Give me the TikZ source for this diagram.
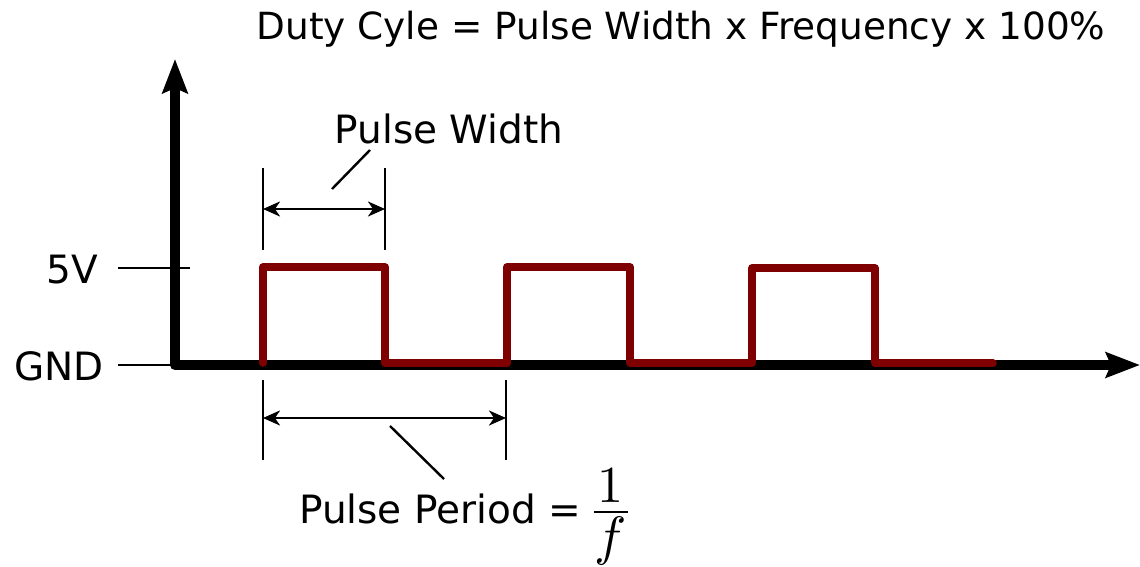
\documentclass[tikz,border=0pt]{standalone}
\usepackage{amsmath}
\usepackage[no-math]{fontspec}
\setmainfont{DejaVu Sans}
\usetikzlibrary{arrows.meta}
\definecolor{pwmred}{HTML}{7F0000}

\begin{document}
\begin{tikzpicture}[x=1pt,y=-1pt,
  axis/.style={line width=10pt,line join=round,
    {Stealth[length=34pt,width=25pt,inset=5pt]}-{Stealth[length=34pt,width=25pt,inset=5pt]}},
  signal/.style={line width=7.5pt,pwmred,line join=round,line cap=round},
  dim/.style={line width=2.4pt},
  dimarrow/.style={line width=2.6pt,
    {Stealth[length=17pt,width=15pt,inset=5pt]}-{Stealth[length=17pt,width=15pt,inset=5pt]}},
  lbl/.style={font=\fontsize{39}{46}\selectfont,inner sep=0pt},
  mathbig/.style={inner sep=0pt,anchor=base}]
\useasboundingbox (0,0) rectangle (1140,567);
\coordinate (O) at (175,365);
\coordinate (Y) at (175,59);
\coordinate (X) at (1140,365);
% level ticks
\coordinate (H0) at (118,268);
\coordinate (H1) at (190,268);
\coordinate (L0) at (118,365);
\draw[dim] (H0)--(H1);
\draw[dim] (L0)--(O);
\node[lbl,anchor=base east] (v5) at (98,283) {5V};
\node[lbl,anchor=base east] (gnd) at (104,380) {GND};
% axes, then the pulses on top
\draw[axis] (Y)--(O)--(X);
\draw[signal] (263,363)--(263,267)--(385,267)--(385,363)--(507,363)--(507,267)--(630,267)
  --(630,363)--(752,363)--(752,268)--(875,268)--(875,363)--(993,363);
% pulse width
\coordinate (W1) at (263,168);
\coordinate (W2) at (385,168);
\draw[dim] (W1)--++(0,82);
\draw[dim] (W2)--++(0,82);
\coordinate (WA) at (263,209);
\coordinate (WB) at (385,209);
\draw[dimarrow] (WA)--(WB);
\node[lbl,anchor=base] (pw) at (449,143) {Pulse Width};
\coordinate (WL) at (332,189);
\draw[dim] (WL)--(370,150);
% pulse period
\coordinate (P1) at (263,380);
\coordinate (P2) at (506,380);
\draw[dim] (P1)--++(0,80);
\draw[dim] (P2)--++(0,80);
\coordinate (PA) at (263,418);
\coordinate (PB) at (506,418);
\draw[dimarrow] (PA)--(PB);
\node[lbl,anchor=base west] (pp) at (299,523) {Pulse Period =};
\coordinate (PL) at (390,426);
\draw[dim] (PL)--(444,479);
\node[mathbig] (num) at (610,502) {\scalebox{5.2}{$1$}};
\node[mathbig] (den) at (611,554) {\scalebox{5.4}{$f$}};
\coordinate (F1) at (594,512);
\coordinate (F2) at (628,512);
\draw[line width=2.5pt] (F1)--(F2);
% formula
\node[font=\fontsize{37.4}{44}\selectfont,inner sep=0pt,anchor=base] (duty) at (681,40) {Duty Cyle = Pulse Width x Frequency x 100\%};
\end{tikzpicture}
\end{document}
